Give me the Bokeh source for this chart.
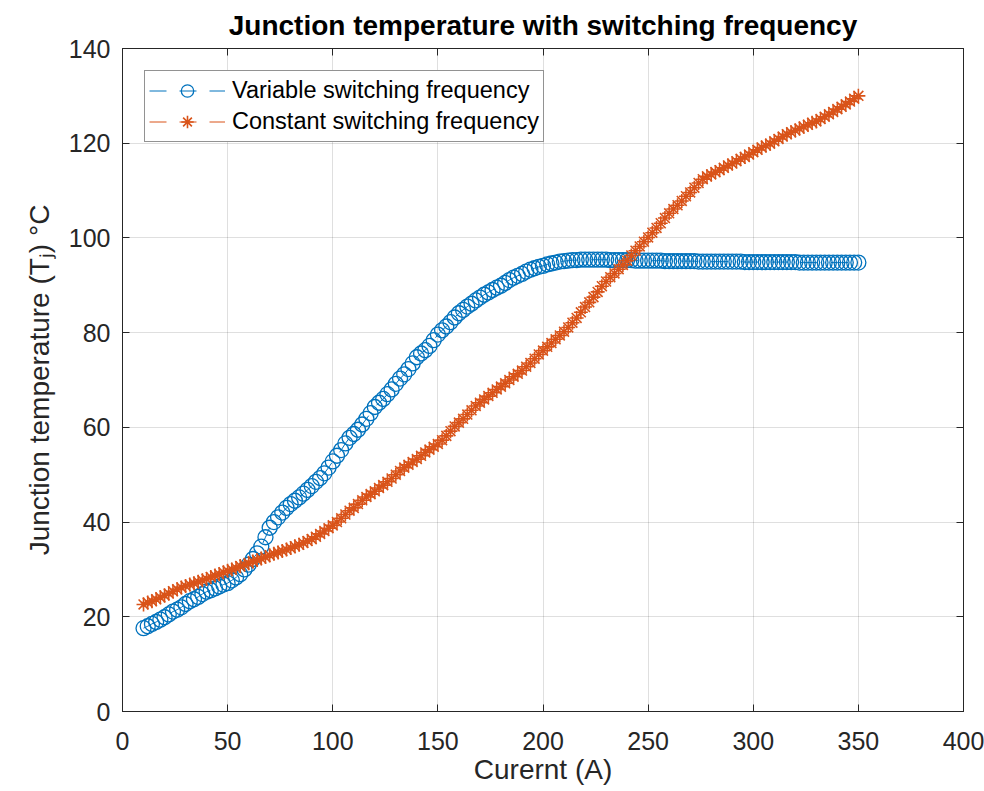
from bokeh.plotting import figure
from bokeh.models import Range1d, LinearAxis, Legend, LegendItem, FixedTicker
from bokeh.embed import file_html
from bokeh.resources import INLINE

current = [
    10, 12, 14, 16, 18, 20, 22, 24, 26, 28,
    30, 32, 34, 36, 38, 40, 42, 44, 46, 48,
    50, 52, 54, 56, 58, 60, 62, 64, 66, 68,
    70, 72, 74, 76, 78, 80, 82, 84, 86, 88,
    90, 92, 94, 96, 98, 100, 102, 104, 106, 108,
    110, 112, 114, 116, 118, 120, 122, 124, 126, 128,
    130, 132, 134, 136, 138, 140, 142, 144, 146, 148,
    150, 152, 154, 156, 158, 160, 162, 164, 166, 168,
    170, 172, 174, 176, 178, 180, 182, 184, 186, 188,
    190, 192, 194, 196, 198, 200, 202, 204, 206, 208,
    210, 212, 214, 216, 218, 220, 222, 224, 226, 228,
    230, 232, 234, 236, 238, 240, 242, 244, 246, 248,
    250, 252, 254, 256, 258, 260, 262, 264, 266, 268,
    270, 272, 274, 276, 278, 280, 282, 284, 286, 288,
    290, 292, 294, 296, 298, 300, 302, 304, 306, 308,
    310, 312, 314, 316, 318, 320, 322, 324, 326, 328,
    330, 332, 334, 336, 338, 340, 342, 344, 346, 348,
    350,
]

tj_variable = [
    17.6, 18.0, 18.5, 18.9, 19.4, 19.9, 20.5, 21.1, 21.5, 22.0,
    22.7, 23.3, 23.7, 24.2, 24.8, 25.3, 25.6, 26.0, 26.4, 26.8,
    27.1, 27.7, 28.3, 29.0, 30.0, 31.0, 32.2, 33.4, 34.8, 36.8,
    38.8, 40.0, 41.0, 42.0, 43.0, 43.8, 44.5, 45.2, 46.0, 46.8,
    47.6, 48.5, 49.3, 50.3, 51.5, 52.8, 54.0, 55.2, 56.6, 57.8,
    58.6, 59.5, 60.6, 61.8, 63.0, 64.3, 65.2, 66.0, 67.0, 68.0,
    69.2, 70.3, 71.2, 72.3, 73.5, 74.8, 75.6, 76.3, 77.2, 78.4,
    79.6, 80.5, 81.3, 82.2, 83.2, 84.1, 84.8, 85.5, 86.1, 86.8,
    87.4, 88.0, 88.5, 89.0, 89.5, 89.9, 90.5, 91.1, 91.6, 92.0,
    92.4, 92.9, 93.3, 93.6, 93.9, 94.1, 94.4, 94.6, 94.8, 95.0,
    95.1, 95.2, 95.3, 95.3, 95.4, 95.4, 95.4, 95.4, 95.4, 95.4,
    95.4, 95.3, 95.3, 95.3, 95.3, 95.3, 95.3, 95.2, 95.2, 95.2,
    95.2, 95.2, 95.2, 95.2, 95.1, 95.1, 95.1, 95.1, 95.1, 95.1,
    95.1, 95.1, 95.0, 95.0, 95.0, 95.0, 95.0, 95.0, 95.0, 95.0,
    95.0, 95.0, 95.0, 94.9, 94.9, 94.9, 94.9, 94.9, 94.9, 94.9,
    94.9, 94.9, 94.9, 94.9, 94.9, 94.9, 94.8, 94.8, 94.8, 94.8,
    94.8, 94.8, 94.8, 94.8, 94.8, 94.8, 94.8, 94.8, 94.8, 94.8,
    94.8,
]

tj_constant = [
    22.6, 23.0, 23.3, 23.7, 24.1, 24.5, 24.9, 25.4, 25.8, 26.2,
    26.5, 26.8, 27.1, 27.4, 27.7, 28.0, 28.4, 28.7, 29.0, 29.4,
    29.7, 30.0, 30.3, 30.7, 31.0, 31.3, 31.7, 32.0, 32.3, 32.6,
    33.0, 33.3, 33.6, 33.9, 34.2, 34.5, 34.9, 35.2, 35.6, 36.0,
    36.4, 36.9, 37.5, 38.1, 38.7, 39.3, 40.0, 40.8, 41.6, 42.4,
    43.0, 43.8, 44.6, 45.3, 45.9, 46.5, 47.2, 47.8, 48.5, 49.2,
    50.0, 50.8, 51.5, 52.1, 52.7, 53.3, 54.0, 54.7, 55.3, 55.9,
    56.5, 57.3, 58.2, 59.2, 60.2, 61.0, 61.8, 62.7, 63.6, 64.5,
    65.2, 65.9, 66.6, 67.3, 68.0, 68.6, 69.3, 70.0, 70.7, 71.3,
    72.0, 72.8, 73.6, 74.5, 75.4, 76.2, 77.0, 77.8, 78.6, 79.4,
    80.2, 81.1, 82.1, 83.1, 84.3, 85.4, 86.4, 87.5, 88.6, 89.8,
    90.8, 91.7, 92.5, 93.4, 94.3, 95.2, 96.3, 97.3, 98.2, 99.2,
    100.1, 101.1, 102.1, 103.1, 104.2, 105.2, 106.1, 106.9, 107.8, 108.8,
    109.6, 110.6, 111.6, 112.4, 113.0, 113.4, 113.9, 114.3, 114.8, 115.3,
    115.7, 116.2, 116.7, 117.1, 117.6, 118.1, 118.6, 119.1, 119.5, 119.9,
    120.4, 120.9, 121.4, 121.9, 122.3, 122.7, 123.1, 123.5, 123.9, 124.3,
    124.6, 125.1, 125.6, 126.1, 126.6, 127.2, 127.7, 128.2, 128.8, 129.4,
    130.0,
]

x_ticks = [0, 50, 100, 150, 200, 250, 300, 350, 400]
y_ticks = [0, 20, 40, 60, 80, 100, 120, 140]

series_names = ["Variable switching frequency", "Constant switching frequency"]

FONT = "Liberation Sans"
AXC = "#262626"
BLUE = "#0072BD"
ORANGE = "#D95319"

p = figure(width=984, height=791, x_range=Range1d(0, 400), y_range=Range1d(0, 140),
           output_backend="svg", toolbar_location=None,
           min_border_left=122, min_border_right=21, min_border_top=47, min_border_bottom=80,
           background_fill_color="white", border_fill_color="white")

p.title.text = "Junction temperature with switching frequency"
p.title.align = "center"
p.title.text_font = FONT
p.title.text_font_size = "28px"
p.title.text_font_style = "bold"
p.title.text_color = "black"
p.title.standoff = 15

p.outline_line_color = AXC
p.outline_line_width = 1

xt = FixedTicker(ticks=x_ticks)
yt = FixedTicker(ticks=y_ticks)

for ax, t in ((p.xaxis[0], xt), (p.yaxis[0], yt)):
    ax.ticker = t
    ax.major_tick_in = 7
    ax.major_tick_out = 0
    ax.minor_tick_in = 0
    ax.minor_tick_out = 0
    ax.axis_line_color = AXC
    ax.major_tick_line_color = AXC
    ax.major_label_text_font = FONT
    ax.major_label_text_font_size = "25px"
    ax.major_label_text_color = AXC
    ax.axis_label_text_font = FONT
    ax.axis_label_text_font_size = "28px"
    ax.axis_label_text_font_style = "normal"
    ax.axis_label_text_color = AXC

p.xaxis.axis_label = "Curernt (A)"
p.xaxis.major_label_standoff = 20
p.xaxis.axis_label_standoff = 1
p.yaxis.axis_label = "Junction temperature (T\u2c7c) \u00b0C"
p.yaxis.major_label_standoff = 12
p.yaxis.axis_label_standoff = 11

top = LinearAxis(ticker=FixedTicker(ticks=x_ticks), major_tick_in=7, major_tick_out=0,
                 minor_tick_in=0, minor_tick_out=0, axis_line_color=AXC,
                 major_tick_line_color=AXC, major_label_text_color=None,
                 major_label_text_font_size="1px", major_label_standoff=0)
right = LinearAxis(ticker=FixedTicker(ticks=y_ticks), major_tick_in=7, major_tick_out=0,
                   minor_tick_in=0, minor_tick_out=0, axis_line_color=AXC,
                   major_tick_line_color=AXC, major_label_text_color=None,
                   major_label_text_font_size="1px", major_label_standoff=0)
p.add_layout(top, "above")
p.add_layout(right, "right")

for g, t in ((p.xgrid[0], xt), (p.ygrid[0], yt)):
    g.ticker = t
    g.grid_line_color = AXC
    g.grid_line_alpha = 0.15
    g.grid_line_width = 1

l1 = p.line(current, tj_variable, line_color=BLUE, line_width=1, line_dash="17 13")
s1 = p.scatter(current, tj_variable, marker="circle", size=15, fill_color=None,
               line_color=BLUE, line_width=1.3)
l2 = p.line(current, tj_constant, line_color=ORANGE, line_width=1, line_dash="17 13")
s2 = p.scatter(current, tj_constant, marker="asterisk", size=14,
               line_color=ORANGE, line_width=1.6)

legend = Legend(items=[LegendItem(label=series_names[0], renderers=[l1, s1]),
                       LegendItem(label=series_names[1], renderers=[l2, s2])],
                location="top_left", margin=22, padding=4, spacing=0,
                glyph_width=76, glyph_height=31, label_height=31, label_standoff=7,
                label_text_font=FONT, label_text_font_size="23.5px", label_text_color="black",
                border_line_color=AXC, border_line_width=1,
                background_fill_color="white", background_fill_alpha=1)
p.add_layout(legend)

open("out.html", "w").write(file_html(p, INLINE))
